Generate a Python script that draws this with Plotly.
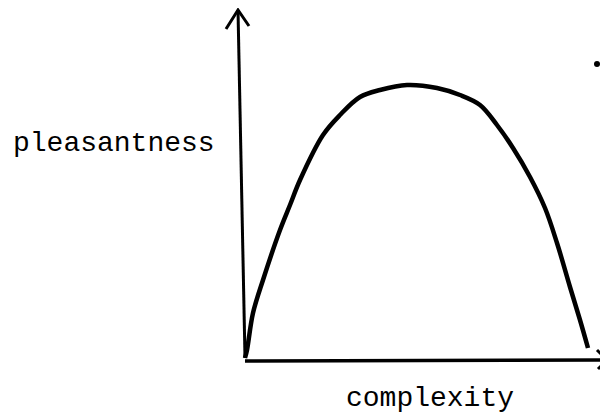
import plotly.graph_objects as go

# Curve: complexity vs pleasantness (arbitrary units)
complexity = [0, 2, 8, 18, 35, 45, 55, 78, 95, 115, 135, 162, 192, 215, 235, 252, 268, 285, 300, 312, 325, 335, 343]
pleasantness = [3, 11, 48, 81, 131, 156, 181, 226, 246, 264, 271, 276, 273, 266, 256, 236, 213, 184, 153, 118, 74, 41, 13]

# Hand-drawn axes (with slight tilt) and open arrowheads
yaxis_x = [0, -7]
yaxis_y = [3, 351]
yhead_x = [-19, -7, 4]
yhead_y = [332, 351, 335]
xaxis_x = [0, 362]
xaxis_y = [0, 1]
xhead_x = [352, 362, 353]
xhead_y = [11, 1, -8]

# stray dot
dot_x = [352]
dot_y = [297]

x_label = "complexity"
y_label = "pleasantness"

fig = go.Figure()
line_style = dict(color="black", width=3)
fig.add_trace(go.Scatter(x=yaxis_x, y=yaxis_y, mode="lines", line=line_style))
fig.add_trace(go.Scatter(x=yhead_x, y=yhead_y, mode="lines", line=line_style))
fig.add_trace(go.Scatter(x=xaxis_x, y=xaxis_y, mode="lines", line=dict(color="black", width=3.5)))
fig.add_trace(go.Scatter(x=xhead_x, y=xhead_y, mode="lines", line=line_style))
fig.add_trace(go.Scatter(x=complexity, y=pleasantness, mode="lines",
                         line=dict(color="black", width=4.5, shape="spline", smoothing=1.0)))
fig.add_trace(go.Scatter(x=dot_x, y=dot_y, mode="markers", cliponaxis=False,
                         marker=dict(color="black", size=6)))

font = dict(family="Liberation Mono, Courier New, monospace", size=28, color="black")
fig.add_annotation(x=-131, y=218, text=y_label, showarrow=False, font=font,
                   xanchor="center", yanchor="middle")
fig.add_annotation(x=185, y=-37, text=x_label, showarrow=False, font=font,
                   xanchor="center", yanchor="middle")

fig.update_layout(
    width=600, height=408,
    margin=dict(l=0, r=0, t=0, b=0),
    paper_bgcolor="white", plot_bgcolor="white",
    showlegend=False, hovermode=False,
    xaxis=dict(range=[-237, 363], visible=False, fixedrange=True),
    yaxis=dict(range=[-55, 353], visible=False, fixedrange=True),
)
fig.write_html("out.html")
